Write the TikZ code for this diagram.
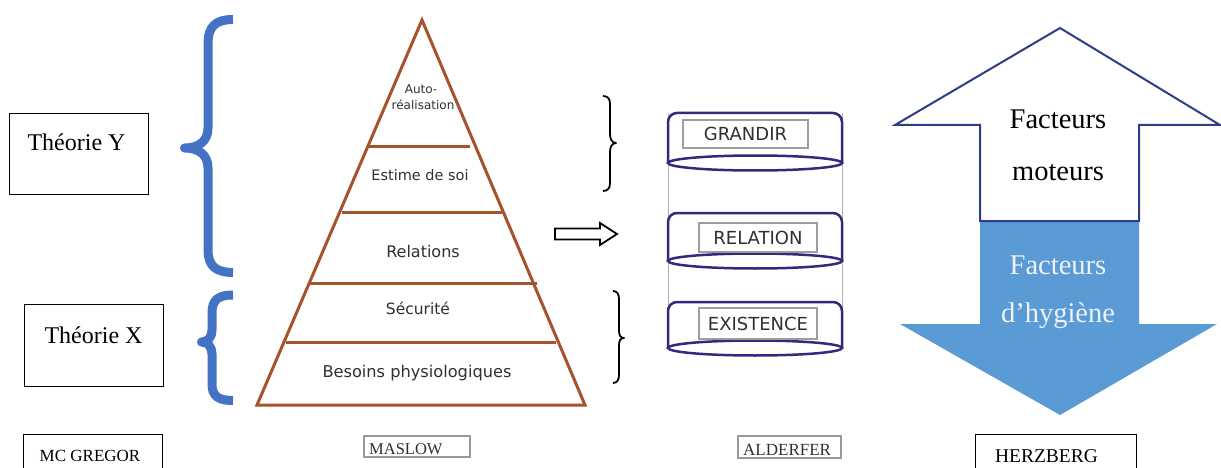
\documentclass[tikz,border=0pt]{standalone}
\usepackage{fontspec}
\setmainfont{Liberation Serif}
\newfontfamily\vsans{DejaVu Sans}
\definecolor{pyrbrown}{RGB}{165,82,45}
\definecolor{braceblue}{RGB}{68,114,196}
\definecolor{discnavy}{RGB}{50,42,122}
\definecolor{herzblue}{RGB}{91,155,213}
\definecolor{herznavy}{RGB}{47,60,135}
\definecolor{darktext}{RGB}{48,48,48}
\definecolor{hygtext}{RGB}{238,243,250}
\tikzset{
  framebox/.style={draw=black, line width=1.1pt, inner sep=0pt},
  greybox/.style={draw=black!40, line width=1.6pt, inner sep=0pt},
  labelbox/.style={draw=black!38, line width=1.1pt, inner sep=0pt,
    font=\vsans\fontsize{18}{21}\selectfont, text=darktext},
  serif/.style={anchor=base, inner sep=0pt},
  pyrtext/.style={anchor=base, inner sep=0pt, text=darktext,
    font=\vsans\fontsize{15.5}{18}\selectfont},
  pyrline/.style={draw=pyrbrown, line width=3pt},
  bluebrace/.style={draw=braceblue, line width=9pt, line join=round},
  blackbrace/.style={draw=black, line width=1.8pt, line join=round},
  discline/.style={draw=discnavy, line width=2.5pt},
}
\begin{document}
\begin{tikzpicture}[x=1pt,y=-1pt]
\useasboundingbox (0,0) rectangle (1221,468);
\clip (0,0) rectangle (1221,468);
\fill[white] (0,0) rectangle (1221,468);

% ---- McGregor: theory boxes and braces ----
\node[framebox, minimum width=139pt, minimum height=81pt, anchor=north west] (thYbox) at (9,113) {};
\node[serif, font=\fontsize{24}{28}\selectfont] (thY) at (76.5,151) {Théorie Y};
\node[framebox, minimum width=139pt, minimum height=82pt, anchor=north west] (thXbox) at (24,304) {};
\node[serif, font=\fontsize{24}{28}\selectfont] (thX) at (93.5,343) {Théorie X};

\draw[bluebrace] (233,19.5) .. controls (216,19.5) and (208,26) .. (208,44)
  -- (208,128) .. controls (208,141) and (199,148) .. (184.5,148)
  .. controls (199,148) and (208,155) .. (208,168)
  -- (208,250) .. controls (208,266) and (216,272.5) .. (233,272.5);
\draw[bluebrace] (233,295) .. controls (218,295) and (212,300) .. (212,313)
  -- (212,330) .. controls (212,337) and (208,342) .. (201.5,342)
  .. controls (208,342) and (212,347) .. (212,354)
  -- (212,384) .. controls (212,396) and (218,400.5) .. (233,400.5);

% ---- Maslow pyramid ----
\coordinate (apex) at (422,20);
\coordinate (baseR) at (585,405);
\coordinate (baseL) at (257,405);
\draw[pyrline, line join=miter] (apex) -- (baseR) -- (baseL) -- cycle;
\draw[pyrline] (368,147) -- (470,147);
\draw[pyrline] (342,212) -- (502,212);
\draw[pyrline] (310,283) -- (537,283);
\draw[pyrline] (286,342) -- (556,342);
\node[pyrtext, font=\vsans\fontsize{12}{14}\selectfont] (auto) at (421,94) {Auto-};
\node[pyrtext, font=\vsans\fontsize{12}{14}\selectfont] (real) at (423,110) {réalisation};
\node[pyrtext, font=\vsans\fontsize{14.5}{18}\selectfont] (estime) at (420,180) {Estime de soi};
\node[pyrtext, font=\vsans\fontsize{16}{18}\selectfont] (rel) at (423,257) {Relations};
\node[pyrtext] (secu) at (418,314) {Sécurité};
\node[pyrtext, font=\vsans\fontsize{16.2}{18}\selectfont] (besoins) at (417,377) {Besoins physiologiques};

% ---- outline arrow towards Alderfer ----
\draw[line width=1.8pt, fill=white, line join=miter]
  (555,228.5) -- (600,228.5) -- (600,223) -- (617,234) -- (600,245)
  -- (600,239.5) -- (555,239.5) -- cycle;

% ---- black braces ----
\draw[blackbrace] (603,96) .. controls (608,96) and (610,99) .. (610,104)
  -- (610,134) .. controls (610,139) and (612,143) .. (616,143)
  .. controls (612,143) and (610,147) .. (610,152)
  -- (610,183) .. controls (610,188) and (608,191) .. (603,191);
\draw[blackbrace] (613,291) .. controls (617,291) and (619,294) .. (619,299)
  -- (619,330) .. controls (619,335) and (620,338) .. (624,338)
  .. controls (620,338) and (619,341) .. (619,346)
  -- (619,375) .. controls (619,380) and (617,383) .. (613,383);

% ---- Alderfer stack ----
\draw[black!30, line width=0.8pt] (668,113) -- (668,348);
\draw[black!30, line width=0.8pt] (842,113) -- (842,348);
% disc 1
\draw[discline, rounded corners=9pt] (668,163) |- (755,113) -| (842,163);
\draw[discline] (755,163) ellipse [x radius=87pt, y radius=7.5pt];
% disc 2
\draw[discline, rounded corners=9pt] (668,261) |- (755,213) -| (842,261);
\draw[discline] (755,261) ellipse [x radius=87pt, y radius=7.5pt];
% disc 3
\draw[discline, rounded corners=9pt] (668,348) |- (755,302) -| (842,348);
\draw[discline] (755,348) ellipse [x radius=87pt, y radius=7.5pt];
\node[labelbox, minimum width=125pt, minimum height=28pt] (grandir) at (745.5,134) {GRANDIR};
\node[labelbox, minimum width=118pt, minimum height=29pt] (relation) at (758,237.5) {RELATION};
\node[labelbox, minimum width=118pt, minimum height=31pt] (existence) at (758,323.5) {EXISTENCE};

% ---- Herzberg arrows ----
\fill[herzblue] (980,221) -- (1139,221) -- (1139,324) -- (1217,324)
  -- (1060,415) -- (900,324) -- (980,324) -- cycle;
\draw[herznavy, line width=2pt, fill=white, line join=miter]
  (1060,28) -- (1220,125) -- (1139,125) -- (1139,221) -- (980,221)
  -- (980,125) -- (895,125) -- cycle;
\node[serif, font=\fontsize{28.5}{32}\selectfont] (fm1) at (1058,129) {Facteurs};
\node[serif, font=\fontsize{28.5}{32}\selectfont] (fm2) at (1058,180) {moteurs};
\node[serif, text=hygtext, font=\fontsize{28.5}{32}\selectfont] (fh1) at (1058,274) {Facteurs};
\node[serif, text=hygtext, font=\fontsize{28.5}{32}\selectfont] (fh2) at (1058,322) {d’hygiène};

% ---- author labels ----
\node[framebox, minimum width=139pt, minimum height=60pt, anchor=north west] (mcgbox) at (23,434) {};
\node[serif, font=\fontsize{17}{20}\selectfont] (mcg) at (90,461) {MC GREGOR};
\node[greybox, minimum width=106pt, minimum height=21pt, anchor=north west] (maslowbox) at (363,435) {};
\node[serif, anchor=base west, text=darktext, font=\fontsize{16.5}{19}\selectfont] (maslow) at (369,454) {MASLOW};
\node[greybox, minimum width=103pt, minimum height=22pt, anchor=north west] (alderbox) at (737,435) {};
\node[serif, anchor=base west, text=darktext, font=\fontsize{17}{20}\selectfont] (alder) at (743,455) {ALDERFER};
\node[framebox, minimum width=161pt, minimum height=60pt, anchor=north west] (herzbox) at (975,434) {};
\node[serif, font=\fontsize{19.5}{22}\selectfont] (herz) at (1046.5,462) {HERZBERG};
\end{tikzpicture}
\end{document}
